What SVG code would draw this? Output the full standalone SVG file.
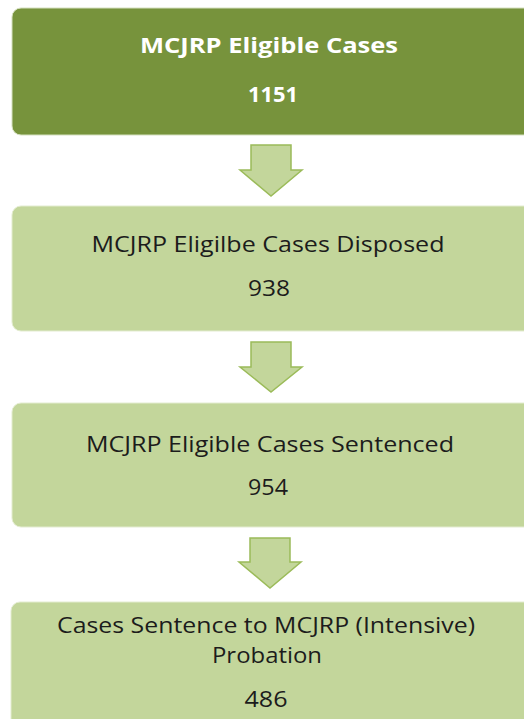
<svg xmlns="http://www.w3.org/2000/svg" width="524" height="719" viewBox="0 0 524 719">
<style>
.box{fill:#c3d69b;stroke:#e3ecd0;stroke-width:1}
.top{fill:#77933c;stroke:#d5e0bf;stroke-width:1}
.t{font-family:"Open Sans",Lato,sans-serif;font-size:21px;text-anchor:middle;fill:#1c1c1c}
.w{font-family:"Open Sans",Lato,sans-serif;font-size:21px;font-weight:bold;text-anchor:middle;fill:#ffffff}
.arr{fill:#c3d69b;stroke:#9bbb59;stroke-width:1.5;stroke-linejoin:miter}
</style>
<rect width="524" height="719" fill="#ffffff"/>
<g id="node1">
<rect class="top" x="12" y="8" width="530" height="127" rx="9"/>
<text class="w" x="269" y="53" textLength="258" lengthAdjust="spacingAndGlyphs">MCJRP Eligible Cases</text>
<text class="w" x="273" y="102" textLength="50" lengthAdjust="spacingAndGlyphs">1151</text>
</g>
<g id="node2">
<rect class="box" x="12" y="206" width="530" height="125" rx="9"/>
<text class="t" x="268" y="252" textLength="353" lengthAdjust="spacingAndGlyphs">MCJRP Eligilbe Cases Disposed</text>
<text class="t" x="269" y="296" textLength="42" lengthAdjust="spacingAndGlyphs">938</text>
</g>
<g id="node3">
<rect class="box" x="12" y="403" width="530" height="124" rx="9"/>
<text class="t" x="270" y="452" textLength="368" lengthAdjust="spacingAndGlyphs">MCJRP Eligible Cases Sentenced</text>
<text class="t" x="268" y="495" textLength="40" lengthAdjust="spacingAndGlyphs">954</text>
</g>
<g id="node4">
<rect class="box" x="11" y="602" width="530" height="140" rx="9"/>
<text class="t" x="266" y="633" textLength="418" lengthAdjust="spacingAndGlyphs">Cases Sentence to MCJRP (Intensive)</text>
<text class="t" x="267" y="663" textLength="110" lengthAdjust="spacingAndGlyphs">Probation</text>
<text class="t" x="266" y="707" textLength="43" lengthAdjust="spacingAndGlyphs">486</text>
</g>
<g id="connectors">
<path class="arr" d="M251,145 H291 V170 H302 L271,196 L240,170 H251 Z"/>
<path class="arr" d="M251,342 H291 V367 H302 L271,392 L240,367 H251 Z"/>
<path class="arr" d="M250,538 H290 V562 H301 L270,588 L239,562 H250 Z"/>
</g>
</svg>
